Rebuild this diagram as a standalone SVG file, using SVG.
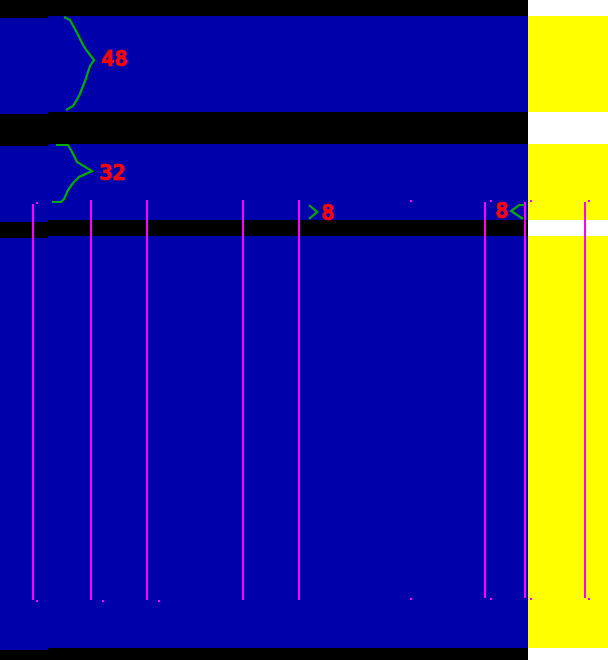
<svg xmlns="http://www.w3.org/2000/svg" width="608" height="660" viewBox="0 0 608 660">
<style>
.blue{fill:#0000AA}
.yel{fill:#FFFF00}
.mag{fill:#FF00FF}
.br{fill:none;stroke:#00AA00;stroke-width:2.2;stroke-linejoin:miter}
.lbl{font-family:"DejaVu Sans Mono","Liberation Mono",monospace;font-weight:bold;font-size:22px;fill:#FF0000;stroke:#FF0000;stroke-width:0.7}
rect{shape-rendering:crispEdges}
</style>
<rect x="0" y="0" width="528" height="660" fill="#000000"/>
<rect x="528" y="0" width="80" height="660" fill="#FFFFFF"/>
<g id="band1">
<rect class="blue" x="0" y="18" width="48" height="96"/>
<rect class="blue" x="48" y="16" width="480" height="96"/>
<rect class="yel" x="528" y="16" width="80" height="96"/>
</g>
<g id="band2">
<rect class="blue" x="0" y="146" width="48" height="76"/>
<rect class="blue" x="48" y="144" width="480" height="76"/>
<rect class="yel" x="528" y="144" width="80" height="76"/>
</g>
<g id="band3">
<rect class="blue" x="0" y="238" width="48" height="412"/>
<rect class="blue" x="48" y="236" width="480" height="412"/>
<rect class="yel" x="528" y="236" width="80" height="412"/>
</g>
<g id="lines">
<rect class="mag" x="32" y="204" width="2" height="396"/>
<rect class="mag" x="90" y="200" width="2" height="400"/>
<rect class="mag" x="146" y="200" width="2" height="400"/>
<rect class="mag" x="242" y="200" width="2" height="400"/>
<rect class="mag" x="298" y="200" width="2" height="400"/>
<rect class="mag" x="484" y="202" width="2" height="396"/>
<rect class="mag" x="524" y="202" width="2" height="396"/>
<rect class="mag" x="584" y="202" width="2" height="396"/>
</g>
<g id="dots">
<rect class="mag" x="36" y="202" width="2" height="2"/>
<rect class="mag" x="410" y="200" width="2" height="2"/>
<rect class="mag" x="490" y="200" width="2" height="2"/>
<rect class="mag" x="530" y="200" width="2" height="2"/>
<rect class="mag" x="588" y="200" width="2" height="2"/>
<rect class="mag" x="36" y="600" width="2" height="2"/>
<rect class="mag" x="102" y="600" width="2" height="2"/>
<rect class="mag" x="158" y="600" width="2" height="2"/>
<rect class="mag" x="410" y="598" width="2" height="2"/>
<rect class="mag" x="490" y="598" width="2" height="2"/>
<rect class="mag" x="530" y="598" width="2" height="2"/>
<rect class="mag" x="588" y="598" width="2" height="2"/>
</g>
<g id="brace48">
<path class="br" d="M64,17 L70,20 L77,33 L83,45 L87,51 L94,60 L90,66 L85,81 L79,96 L73,106 L66,110"/>
<text class="lbl" x="101" y="66">48</text>
</g>
<g id="brace32">
<path class="br" d="M56,145 H68 L72,152 L77,162 L92,171 L79,177 L73,183 L68,190 L64,199 L61,202 H52"/>
<text class="lbl" x="99" y="180">32</text>
</g>
<g id="gap8a">
<path class="br" d="M309,205 L317,212 L309,219"/>
<text class="lbl" x="321" y="220">8</text>
</g>
<g id="gap8b">
<path class="br" d="M524,205 H519 L511,211 L523,219"/>
<text class="lbl" x="495" y="218">8</text>
</g>
</svg>
